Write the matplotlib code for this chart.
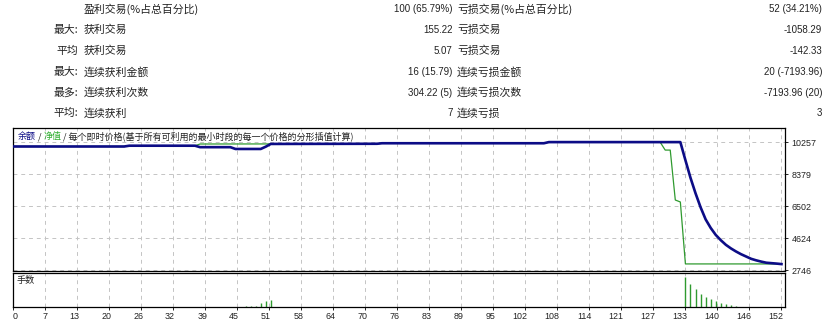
import numpy as np
import matplotlib.pyplot as plt
import matplotlib.transforms as mtransforms

plt.rcParams['font.family'] = ['Noto Sans CJK SC', 'DejaVu Sans']

# 统计表
row_prefix = ["", "最大:", "平均", "最大:", "最多:", "平均:"]
win_labels = ["盈利交易(%占总百分比)", "获利交易", "获利交易", "连续获利金额", "连续获利次数", "连续获利"]
win_values = ["100 (65.79%)", "155.22", "5.07", "16 (15.79)", "304.22 (5)", "7"]
loss_labels = ["亏损交易(%占总百分比)", "亏损交易", "亏损交易", "连续亏损金额", "连续亏损次数", "连续亏损"]
loss_values = ["52 (34.21%)", "-1058.29", "-142.33", "20 (-7193.96)", "-7193.96 (20)", "3"]

# 余额 (交易序号, 数值)
balance_trades = [0, 22, 23, 36, 37, 43, 44, 49, 50, 51, 72, 73, 105, 106, 132,
                  133, 134, 135, 136, 137, 138, 139, 140, 141, 142,
                  143, 144, 145, 146, 147, 148, 149, 150, 151, 152]
balance = [10000, 10000, 10046, 10046, 9960, 9960, 9855, 9855, 9990, 10150, 10160, 10190, 10190, 10257, 10257,
           9200, 8170, 7260, 6440, 5730, 5230, 4820, 4510, 4240, 4030,
           3850, 3690, 3555, 3420, 3330, 3255, 3190, 3165, 3140, 3110]

# 净值
equity_trades = [0, 22, 23, 36, 37, 51, 72, 73, 105, 106, 128, 129, 130, 131, 132, 133, 152]
equity = [10000, 10000, 10046, 10046, 10146, 10150, 10160, 10190, 10190, 10257, 10257,
          9790, 9790, 6864, 6750, 3120, 3120]

# 手数
lot_trades = [46, 47, 48, 49, 50, 51, 133, 134, 135, 136, 137, 138, 139, 140, 141, 142, 143]
lots = [0.01, 0.01, 0.015, 0.037, 0.057, 0.073, 0.30, 0.227, 0.177, 0.127, 0.097, 0.077, 0.06, 0.04, 0.027, 0.02, 0.015]

x_tick_labels = ["0", "7", "13", "20", "26", "32", "39", "45", "51", "58", "64", "70", "76",
                 "83", "89", "95", "102", "108", "114", "121", "127", "133", "140", "146", "152"]
y_ticks = [2746, 4624, 6502, 8379, 10257]

W, H = 833, 322
fig = plt.figure(figsize=(W / 100, H / 100), dpi=100)


def fx(px):
    return px / W


def fy(py):
    return 1 - py / H


# 顶部统计表
row_y = [9, 30, 50.7, 72.3, 92.7, 113.3]
for i in range(len(row_y)):
    y = fy(row_y[i])
    fig.text(fx(78), y, row_prefix[i], ha='right', va='center', fontsize=7.8, color='#222222')
    fig.text(fx(84), y, win_labels[i], ha='left', va='center', fontsize=7.8, color='#222222')
    fig.text(fx(452.5), y, win_values[i], ha='right', va='center', fontsize=7.0,
             family='Liberation Sans', color='#222222')
    fig.text(fx(457), y, loss_labels[i], ha='left', va='center', fontsize=7.8, color='#222222')
    fig.text(fx(822), y, loss_values[i], ha='right', va='center', fontsize=7.0,
             family='Liberation Sans', color='#222222')

ax = fig.add_axes([fx(13), fy(270.7), fx(784.5 - 13), (270.7 - 128.3) / H])
ax_vol = fig.add_axes([fx(13), fy(307), fx(784.5 - 13), (307 - 273.3) / H])

grid_kw = dict(color='#c4c4c4', linewidth=0.7, dashes=(4, 4))
x_ticks = np.linspace(0, 152, len(x_tick_labels))

ax.plot(equity_trades, equity, color='#2f9a2f', linewidth=0.9, zorder=3)
ax.plot(balance_trades, balance, color='#0c0c86', linewidth=1.9, zorder=4)
ax.set_xlim(0, 152.6)
ax.set_ylim(2723, 11066)
ax.set_xticks(x_ticks)
ax.set_yticks(y_ticks)
ax.set_yticklabels([str(v) for v in y_ticks])
ax.yaxis.tick_right()
ax.tick_params(axis='x', length=0, labelbottom=False)
ax.tick_params(axis='y', direction='out', length=2.5, width=0.7, pad=2.5,
               labelsize=6.4, labelfontfamily='Liberation Sans', colors='#222222')
ax.grid(True, **grid_kw)
for s in ax.spines.values():
    s.set_color('black')
    s.set_linewidth(0.9)

t1 = ax.text(0.006, 0.94, "余额", transform=ax.transAxes, fontsize=6.5, color='#0c0c86',
             ha='left', va='center')
t2 = ax.annotate(" / ", xy=(1, 0), xycoords=t1, ha='left', va='bottom', fontsize=6.5, color='#222222')
t3 = ax.annotate("净值", xy=(1, 0), xycoords=t2, ha='left', va='bottom', fontsize=6.5, color='#2fae2f')
ax.annotate(" / 每个即时价格(基于所有可利用的最小时段的每一个价格的分形插值计算)", xy=(1, 0),
            xycoords=t3, ha='left', va='bottom', fontsize=6.5, color='#222222')

ax_vol.vlines(lot_trades, 0, lots, color='#2f9a2f', linewidth=1.0)
ax_vol.set_xlim(0, 152.6)
ax_vol.set_ylim(0, 0.337)
ax_vol.set_yticks([])
ax_vol.set_xticks(x_ticks)
ax_vol.set_xticklabels(x_tick_labels)
ax_vol.tick_params(axis='x', direction='out', length=2, width=0.7, pad=1.5,
                   labelsize=6.4, labelfontfamily='Liberation Sans', colors='#222222')
ax_vol.grid(True, axis='x', **grid_kw)
for s in ax_vol.spines.values():
    s.set_color('black')
    s.set_linewidth(0.9)
ax_vol.text(0.005, 0.78, "手数", transform=ax_vol.transAxes, fontsize=6.6, color='#222222',
            ha='left', va='center')

offset = mtransforms.ScaledTranslation(2 / 100, 0, fig.dpi_scale_trans)
for i, lab in enumerate(ax_vol.get_xticklabels()):
    if i == 0:
        lab.set_ha('left')
    else:
        lab.set_ha('right')
        lab.set_transform(lab.get_transform() + offset)

fig.savefig("out.png", dpi=100)
